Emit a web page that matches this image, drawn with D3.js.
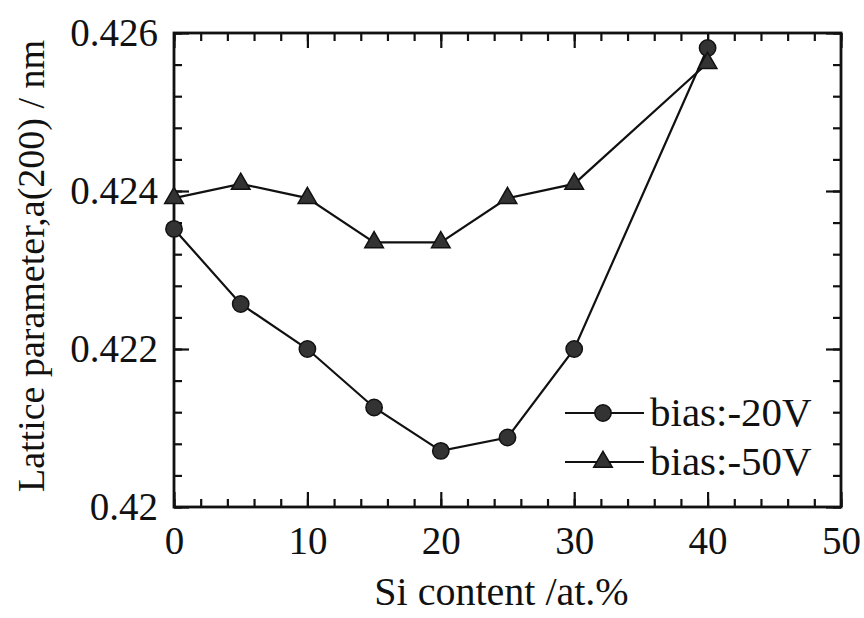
<!DOCTYPE html>
<html>
<head>
<meta charset="utf-8">
<script src="https://cdn.jsdelivr.net/npm/d3@7"></script>
<style>
  body { margin: 0; background: #fff; }
  text { font-family: "Liberation Serif", "Times New Roman", serif; fill: #111; }
</style>
</head>
<body>
<div id="chart"></div>
<script>
// Si content (at.%)
const siContent = [0, 5, 10, 15, 20, 25, 30, 40];
// lattice parameter a(200) in nm
const bias20 = [0.42352, 0.42257, 0.42200, 0.42126, 0.42071, 0.42088, 0.42200, 0.42581];
const bias50 = [0.42391, 0.42409, 0.42391, 0.42335, 0.42335, 0.42391, 0.42409, 0.42562];
const seriesNames = ["bias:-20V", "bias:-50V"];
const xTicks = [0, 10, 20, 30, 40, 50];
const yTicks = [0.420, 0.422, 0.424, 0.426];
const yTickLabels = ["0.42", "0.422", "0.424", "0.426"];

const W = 864, H = 618;
const margin = {top: 33, right: 23, bottom: 111, left: 174};
const width = W - margin.left - margin.right,
      height = H - margin.top - margin.bottom;

const svg = d3.select("#chart").append("svg")
    .attr("width", W)
    .attr("height", H);

const g = svg.append("g")
    .attr("transform", "translate(" + margin.left + "," + margin.top + ")");

const x = d3.scaleLinear().domain([0, 50]).range([0, width]);
const y = d3.scaleLinear().domain([0.420, 0.426]).range([height, 0]);

const xMinor = d3.range(0, 50.01, 2);
const yMinor = d3.range(0, 16).map(i => 0.420 + i * 0.0004);

function styleAxis(sel) {
    sel.select(".domain").remove();
    sel.selectAll("line").attr("stroke", "#111").attr("stroke-width", 2.2);
    sel.selectAll("text").style("font-size", "39px").attr("fill", "#111");
}

// bottom axis with labels
g.append("g")
    .attr("transform", "translate(0," + height + ")")
    .call(d3.axisBottom(x).tickValues(xTicks).tickSize(-15).tickPadding(19).tickFormat(d3.format("d")))
    .call(styleAxis);
g.append("g")
    .attr("transform", "translate(0," + height + ")")
    .call(d3.axisBottom(x).tickValues(xMinor).tickSize(-8).tickFormat(""))
    .call(styleAxis);
// top axis
g.append("g")
    .call(d3.axisTop(x).tickValues(xTicks).tickSize(-15).tickFormat(""))
    .call(styleAxis);
g.append("g")
    .call(d3.axisTop(x).tickValues(xMinor).tickSize(-8).tickFormat(""))
    .call(styleAxis);

// left axis with labels
g.append("g")
    .call(d3.axisLeft(y).tickValues(yTicks).tickSize(-15).tickPadding(16)
        .tickFormat((d, i) => yTickLabels[i]))
    .call(styleAxis);
g.append("g")
    .call(d3.axisLeft(y).tickValues(yMinor).tickSize(-8).tickFormat(""))
    .call(styleAxis);
// right axis
g.append("g")
    .attr("transform", "translate(" + width + ",0)")
    .call(d3.axisRight(y).tickValues(yTicks).tickSize(-15).tickFormat(""))
    .call(styleAxis);
g.append("g")
    .attr("transform", "translate(" + width + ",0)")
    .call(d3.axisRight(y).tickValues(yMinor).tickSize(-8).tickFormat(""))
    .call(styleAxis);

// frame
g.append("rect")
    .attr("width", width)
    .attr("height", height)
    .attr("fill", "none")
    .attr("stroke", "#111")
    .attr("stroke-width", 2.8);

const line = d3.line()
    .x((d, i) => x(siContent[i]))
    .y(d => y(d));

const circleSym = d3.symbol().type(d3.symbolCircle).size(210);
const triSym = d3.symbol().type(d3.symbolTriangle).size(150);

[bias20, bias50].forEach(function(vals, k) {
    g.append("path")
        .datum(vals)
        .attr("d", line)
        .attr("fill", "none")
        .attr("stroke", "#111")
        .attr("stroke-width", 2.2);

    g.selectAll(".pt" + k)
        .data(vals)
        .enter()
        .append("path")
        .attr("class", "pt" + k)
        .attr("transform", (d, i) => "translate(" + x(siContent[i]) + "," + y(d) + ")")
        .attr("d", k === 0 ? circleSym : triSym)
        .attr("fill", "#333")
        .attr("stroke", "#111")
        .attr("stroke-width", 1.5);
});

// legend
const legend = svg.append("g");
seriesNames.forEach(function(name, k) {
    const ly = 413 + k * 49;
    legend.append("line")
        .attr("x1", 565).attr("x2", 644)
        .attr("y1", ly).attr("y2", ly)
        .attr("stroke", "#111")
        .attr("stroke-width", 2.2);
    legend.append("path")
        .attr("transform", "translate(603," + ly + ")")
        .attr("d", k === 0 ? circleSym : triSym)
        .attr("fill", "#333")
        .attr("stroke", "#111")
        .attr("stroke-width", 1.5);
    legend.append("text")
        .attr("x", 650)
        .attr("y", ly + 13)
        .style("font-size", "41px")
        .text(name);
});

// axis titles
svg.append("text")
    .attr("x", margin.left + width / 2 - 6)
    .attr("y", 605)
    .attr("text-anchor", "middle")
    .style("font-size", "40px")
    .text("Si content /at.%");

svg.append("text")
    .attr("transform", "translate(44,266) rotate(-90)")
    .attr("text-anchor", "middle")
    .style("font-size", "38px")
    .text("Lattice parameter,a(200) / nm");
</script>
</body>
</html>
